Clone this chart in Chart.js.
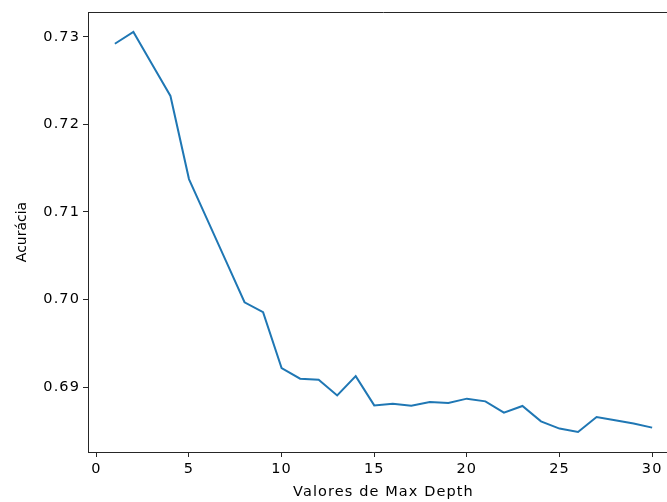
<!DOCTYPE html>
<html>
<head>
<meta charset="utf-8">
<script src="https://cdn.jsdelivr.net/npm/chart.js@4"></script>
<style>
  html, body { margin: 0; padding: 0; background: #fff; overflow: hidden; }
</style>
</head>
<body>
<canvas id="accChart" width="680" height="502"></canvas>
<script>
// max_depth values tried and the accuracy obtained for each
const maxDepths = [1, 2, 3, 4, 5, 6, 7, 8, 9, 10, 11, 12, 13, 14, 15,
                   16, 17, 18, 19, 20, 21, 22, 23, 24, 25, 26, 27, 28, 29, 30];
const accuracies = [0.72922, 0.73056, 0.72690, 0.72326, 0.71376, 0.70907, 0.70439, 0.69969, 0.69855, 0.69217,
                    0.69096, 0.69084, 0.68905, 0.69125, 0.68791, 0.68811, 0.68788, 0.68829, 0.68818, 0.68868,
                    0.68837, 0.68708, 0.68784, 0.68609, 0.68526, 0.68487, 0.68658, 0.68620, 0.68583, 0.68537];
const xTicks = [0, 5, 10, 15, 20, 25, 30];
const yTicks = [0.69, 0.70, 0.71, 0.72, 0.73];

// same 5% margins matplotlib puts around the data
function padRange(vals) {
    const lo = Math.min(...vals), hi = Math.max(...vals);
    const m = (hi - lo) * 0.05;
    return [lo - m, hi + m];
}
const [xMin, xMax] = padRange(maxDepths);
const [yMin, yMax] = padRange(accuracies);

const axisColor = '#262626';
const font = { family: 'DejaVu Sans', size: 14.5 };
const yTitleFont = { family: 'DejaVu Sans', size: 14 };

// horizontal text is a bit wider than plain DejaVu
const spacing = {
    id: 'spacing',
    beforeDraw(chart) { chart.ctx.letterSpacing = '1.1px'; }
};

// top and right spines
const frame = {
    id: 'frame',
    afterDraw(chart) {
        const { ctx, chartArea: a } = chart;
        ctx.save();
        ctx.strokeStyle = axisColor;
        ctx.lineWidth = 1;
        ctx.beginPath();
        ctx.moveTo(a.left, a.top + 0.5);
        ctx.lineTo(a.right, a.top + 0.5);
        ctx.moveTo(a.right - 0.5, a.top);
        ctx.lineTo(a.right - 0.5, a.bottom);
        ctx.stroke();
        ctx.restore();
    }
};

new Chart(document.getElementById('accChart').getContext('2d'), {
    type: 'line',
    data: {
        datasets: [{
            data: maxDepths.map((d, i) => ({ x: d, y: accuracies[i] })),
            borderColor: '#1f77b4',
            borderWidth: 2,
            pointRadius: 0,
            tension: 0,
            fill: false
        }]
    },
    options: {
        responsive: false,
        animation: false,
        devicePixelRatio: 1,
        layout: { padding: { top: 12, right: 1, left: 0, bottom: 0 } },
        plugins: { legend: { display: false }, tooltip: { enabled: false } },
        scales: {
            x: {
                type: 'linear',
                min: xMin,
                max: xMax,
                afterBuildTicks: s => { s.ticks = xTicks.map(v => ({ value: v })); },
                afterFit: s => { s.height = 50; },
                grid: { drawOnChartArea: false, drawTicks: true, tickLength: 5, color: axisColor },
                border: { color: axisColor, width: 1 },
                ticks: { color: '#000', font: font, padding: 4, maxRotation: 0,
                         callback: v => String(v) },
                title: { display: true, text: 'Valores de Max Depth', color: '#000', font: font,
                         padding: { top: 0, bottom: 1 } }
            },
            y: {
                type: 'linear',
                min: yMin,
                max: yMax,
                afterBuildTicks: s => { s.ticks = yTicks.map(v => ({ value: v })); },
                afterFit: s => {
                    s.width = 88;
                    // rotated title keeps normal spacing
                    s.drawTitle = function () {
                        const prev = this.ctx.letterSpacing;
                        this.ctx.letterSpacing = '0px';
                        Object.getPrototypeOf(this).drawTitle.call(this);
                        this.ctx.letterSpacing = prev;
                    };
                },
                grid: { drawOnChartArea: false, drawTicks: true, tickLength: 5, color: axisColor },
                border: { color: axisColor, width: 1 },
                ticks: { color: '#000', font: font, padding: 3,
                         callback: v => v.toFixed(2) },
                title: { display: true, text: 'Acurácia', color: '#000', font: yTitleFont,
                         padding: { top: 14, bottom: 0 } }
            }
        }
    },
    plugins: [spacing, frame]
});
</script>
</body>
</html>
